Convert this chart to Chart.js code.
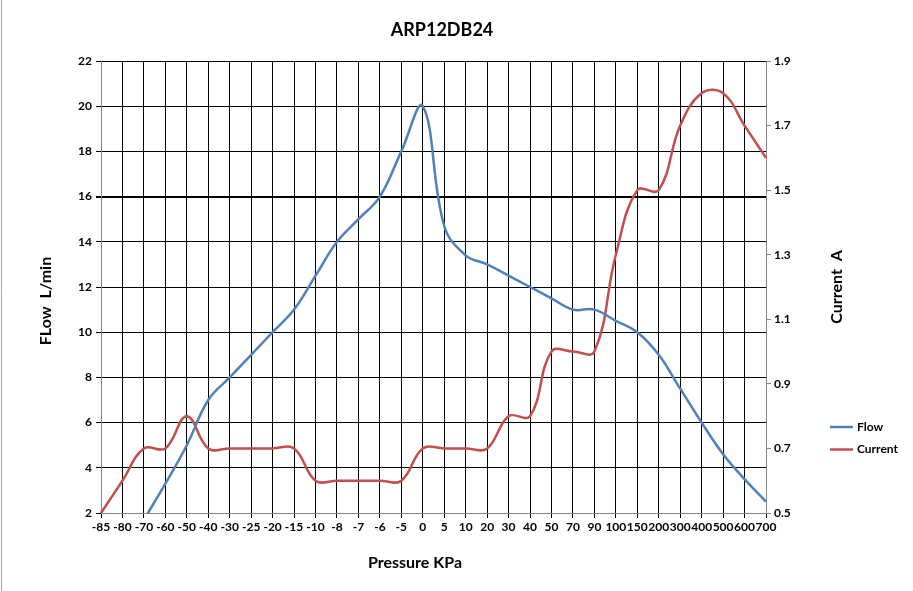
<!DOCTYPE html>
<html>
<head>
<meta charset="utf-8">
<script src="https://cdn.jsdelivr.net/npm/chart.js@4/dist/chart.umd.min.js"></script>
<style>
html,body{margin:0;padding:0;background:#fff;}
canvas{display:block;}
</style>
</head>
<body>
<canvas id="c" width="913" height="591"></canvas>
<script>
// ---- data ----
const chartTitle = 'ARP12DB24';
const xTitle = 'Pressure KPa';
const yLeftTitle = 'FLow  L/min';
const yRightTitle = 'Current  A';

const pressure = ['-85','-80','-70','-60','-50','-40','-30','-25','-20','-15','-10','-8','-7','-6','-5','0',
                  '5','10','20','30','40','50','70','90','100','150','200','300','400','500','600','700'];
const flow = [null, null, 1.7, 3.3, 5.0, 7.0, 8.0, 9.0, 10.0, 11.0, 12.5, 14.0, 15.0, 16.0, 18.0, 20.0,
              14.7, 13.4, 13.0, 12.5, 12.0, 11.5, 11.0, 11.0, 10.5, 10.0, 9.0, 7.5, 6.0, 4.6, 3.5, 2.5];
const current = [0.5, 0.6, 0.7, 0.7, 0.8, 0.7, 0.7, 0.7, 0.7, 0.7, 0.6, 0.6, 0.6, 0.6, 0.6, 0.7,
                 0.7, 0.7, 0.7, 0.8, 0.8, 1.0, 1.0, 1.0, 1.3, 1.5, 1.5, 1.7, 1.8, 1.8, 1.7, 1.6];

const flowRange = [2, 22, 2];        // min, max, step
const currentRange = [0.5, 1.9, 0.2]; // min, max, step

const FONT = 'Lato, "Open Sans", sans-serif';
const BLUE = '#4F81BD';
const RED = '#C0504D';
const AXIS_GRAY = '#868686';

const textPlugin = {
  id: 'texts',
  beforeDraw(chart) {
    const ctx = chart.ctx;
    ctx.save();
    ctx.fillStyle = '#fff';
    ctx.fillRect(0, 0, chart.width, chart.height);
    ctx.strokeStyle = '#A6A6A6';
    ctx.lineWidth = 1;
    ctx.beginPath();
    ctx.moveTo(1.5, 0);
    ctx.lineTo(1.5, chart.height);
    ctx.stroke();
    ctx.restore();
  },
  afterDraw(chart) {
    const ctx = chart.ctx;
    ctx.save();
    ctx.fillStyle = '#000';
    ctx.textAlign = 'center';
    ctx.textBaseline = 'middle';
    ctx.font = 'bold 18px ' + FONT;
    ctx.fillText(chartTitle, 442, 30);
    ctx.font = 'bold 16px ' + FONT;
    ctx.fillText(xTitle, 415, 563);
    ctx.save();
    ctx.translate(45.5, 301);
    ctx.rotate(-Math.PI / 2);
    ctx.fillText(yLeftTitle, 0, 0);
    ctx.restore();
    ctx.save();
    ctx.translate(836.5, 287);
    ctx.rotate(-Math.PI / 2);
    ctx.fillText(yRightTitle, 0, 0);
    ctx.restore();
    // legend
    ctx.textAlign = 'left';
    ctx.font = 'bold 12px ' + FONT;
    chart.data.datasets.forEach((ds, i) => {
      const y = 427 + i * 22.5;
      ctx.strokeStyle = ds.borderColor;
      ctx.lineWidth = 2.5;
      ctx.beginPath();
      ctx.moveTo(830, y);
      ctx.lineTo(853, y);
      ctx.stroke();
      ctx.fillStyle = '#000';
      ctx.fillText(ds.label, 857, y);
    });
    ctx.restore();
  }
};

const tickFont = { family: FONT, weight: 'bold', size: 12 };

new Chart(document.getElementById('c'), {
  type: 'line',
  data: {
    labels: pressure,
    datasets: [
      { label: 'Flow', data: flow, yAxisID: 'y', borderColor: BLUE, backgroundColor: BLUE,
        borderWidth: 2.5, pointRadius: 0, tension: 0.4, fill: false },
      { label: 'Current', data: current, yAxisID: 'y1', borderColor: RED, backgroundColor: RED,
        borderWidth: 2.5, pointRadius: 0, tension: 0.4, fill: false }
    ]
  },
  options: {
    responsive: false,
    animation: false,
    layout: { padding: { top: 61, left: 0, right: 0, bottom: 0 } },
    plugins: {
      legend: { display: false },
      title: { display: false },
      tooltip: { enabled: false }
    },
    scales: {
      x: {
        type: 'category',
        offset: false,
        grid: { color: '#000', lineWidth: 1, tickLength: 5, drawTicks: true },
        border: { color: AXIS_GRAY, width: 1 },
        ticks: { autoSkip: false, maxRotation: 0, minRotation: 0, color: '#000', font: tickFont, padding: 2 },
        afterFit: s => { s.height = 78; }
      },
      y: {
        position: 'left',
        min: flowRange[0], max: flowRange[1],
        grid: { color: '#000', lineWidth: c => (c.tick && c.tick.value === 16 ? 2 : 1), tickLength: 5 },
        border: { color: AXIS_GRAY, width: 1 },
        ticks: { stepSize: flowRange[2], color: '#000', font: tickFont, padding: 4 },
        afterFit: s => { s.width = 101; }
      },
      y1: {
        position: 'right',
        min: currentRange[0], max: currentRange[1],
        grid: { drawOnChartArea: false, color: AXIS_GRAY, tickLength: 5 },
        border: { color: AXIS_GRAY, width: 1 },
        ticks: { stepSize: currentRange[2], color: '#000', font: tickFont, padding: 3,
                 callback: v => Number(v).toFixed(1) },
        afterFit: s => { s.width = 147; }
      }
    }
  },
  plugins: [textPlugin]
});
</script>
</body>
</html>
